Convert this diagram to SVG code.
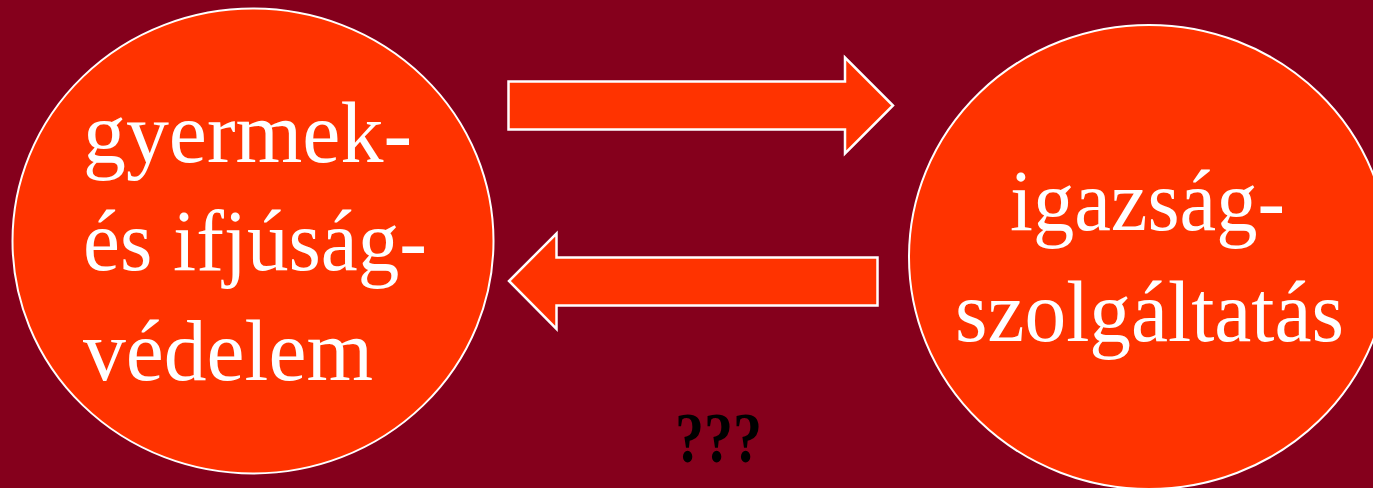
<svg xmlns="http://www.w3.org/2000/svg" width="1373" height="488" viewBox="0 0 1373 488">
<style>
.node{fill:#FF3300;stroke:#FFFFFF;stroke-width:2}
.arrow{fill:#FF3300;stroke:#FFFFFF;stroke-width:2.5}
.lbl{fill:#FFFFFF;font-family:"Liberation Serif","DejaVu Serif",serif;font-size:86px}
.q{fill:#000000;font-family:"Liberation Serif","DejaVu Serif",serif;font-size:72px;font-weight:bold}
</style>
<rect x="0" y="0" width="1373" height="488" fill="#85001C"/>
<g id="node-left">
<ellipse class="node" cx="253" cy="241" rx="240.5" ry="232.5"/>
<text class="lbl" x="83" y="162" textLength="329" lengthAdjust="spacingAndGlyphs">gyermek-</text>
<text class="lbl" x="83" y="270" textLength="344" lengthAdjust="spacingAndGlyphs">és ifjúság-</text>
<text class="lbl" x="83" y="380" textLength="290" lengthAdjust="spacingAndGlyphs">védelem</text>
</g>
<g id="node-right">
<ellipse class="node" cx="1149" cy="257" rx="240" ry="232"/>
<text class="lbl" x="1010" y="230" textLength="275" lengthAdjust="spacingAndGlyphs">igazság-</text>
<text class="lbl" x="955" y="341" textLength="389" lengthAdjust="spacingAndGlyphs">szolgáltatás</text>
</g>
<g id="connectors">
<polygon class="arrow" points="508.5,81.5 845,81.5 845,57.5 893,105.5 845,153.5 845,129.5 508.5,129.5"/>
<polygon class="arrow" points="877.5,257.5 556.5,257.5 556.5,233.5 509,281 556.5,329 556.5,305.5 877.5,305.5"/>
</g>
<g id="label-q">
<text class="q" x="675" y="462" textLength="87" lengthAdjust="spacingAndGlyphs">???</text>
</g>
</svg>
